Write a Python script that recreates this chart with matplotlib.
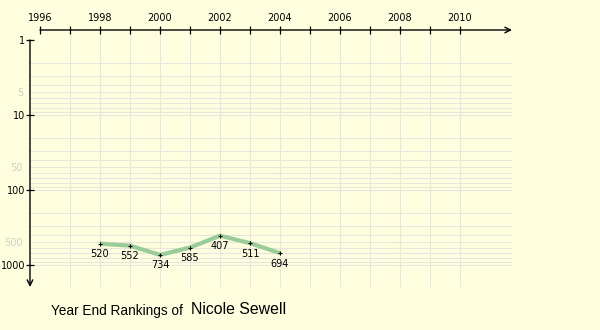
import matplotlib
matplotlib.use('Agg')
import matplotlib.pyplot as plt
from matplotlib.ticker import FixedLocator, FixedFormatter

# data
years = [1998, 1999, 2000, 2001, 2002, 2003, 2004]
ranks = [520, 552, 734, 585, 407, 511, 694]
year_labels = [1996, 1998, 2000, 2002, 2004, 2006, 2008, 2010]
major_ranks = [1, 10, 100, 1000]
minor_ranks = [5, 50, 500]
player = 'Nicole Sewell'

bg = '#FFFFE0'
grid_col = '#E6E6DC'

W, H = 600, 330
fig = plt.figure(figsize=(6, 3.3), dpi=100, facecolor=bg)
# axes box in pixels: left edge = y axis (x=30), top edge = x axis (y=30)
ax = fig.add_axes([30 / W, 1 - 287 / H, 482 / W, 257 / H], facecolor=bg)

ax.set_yscale('log')
ax.set_xlim(1996 - 10 / 30, 1996 + 472 / 30)
ax.set_ylim(10 ** (247 / 75), 10 ** (-10 / 75))

for s in ax.spines.values():
    s.set_visible(False)

# grid
for yr in range(1997, 2011):
    ax.axvline(yr, color=grid_col, lw=0.8, zorder=0)
for dec in [1, 10, 100]:
    for m in range(2, 11):
        ax.axhline(dec * m, color=grid_col, lw=0.8, zorder=0)

# x axis on top
ax.xaxis.tick_top()
ax.set_xticks(year_labels)
ax.set_xticklabels([str(y) for y in year_labels], fontsize=7)
ax.xaxis.set_minor_locator(FixedLocator(list(range(1997, 2011, 2))))
ax.tick_params(axis='x', which='both', direction='inout', length=6, width=0.9,
               pad=2, color='black', bottom=False, top=True)

# y axis
ax.yaxis.set_major_locator(FixedLocator(major_ranks))
ax.yaxis.set_major_formatter(FixedFormatter([str(r) for r in major_ranks]))
ax.yaxis.set_minor_locator(FixedLocator(minor_ranks))
ax.yaxis.set_minor_formatter(FixedFormatter([str(r) for r in minor_ranks]))
ax.tick_params(axis='y', which='major', direction='inout', length=5.8, width=0.9,
               labelsize=7, pad=0.3)
ax.tick_params(axis='y', which='minor', length=0, labelsize=7,
               labelcolor='#D0D0C4', pad=5)

# axis lines with open arrows
ax.annotate('', xy=(1, 1), xycoords='axes fraction',
            xytext=(1996, 1), textcoords=('data', 'axes fraction'),
            arrowprops=dict(arrowstyle='->', lw=1, color='black',
                            shrinkA=0, shrinkB=0), annotation_clip=False)
ax.annotate('', xy=(0, 0), xycoords='axes fraction',
            xytext=(0, 1), textcoords=('axes fraction', 'data'),
            arrowprops=dict(arrowstyle='->', lw=1, color='black',
                            shrinkA=0, shrinkB=0), annotation_clip=False)

# ranking line
ax.plot(years, ranks, color='#99CC99', lw=3, solid_capstyle='butt', zorder=3)
ax.plot(years, ranks, '+', color='black', ms=3, mew=0.8, zorder=4)
for x, r in zip(years, ranks):
    ax.annotate(str(r), (x, r), xytext=(0, -4), textcoords='offset points',
                ha='center', va='top', fontsize=7)

fig.text(51 / W, 1 - 315 / H, 'Year End Rankings of', fontsize=9.8,
         family='Liberation Sans', va='baseline', ha='left')
fig.text(191 / W, 1 - 314.5 / H, player, fontsize=11.4,
         family='Liberation Sans', va='baseline', ha='left')

fig.savefig('out.png', dpi=100, facecolor=bg)
